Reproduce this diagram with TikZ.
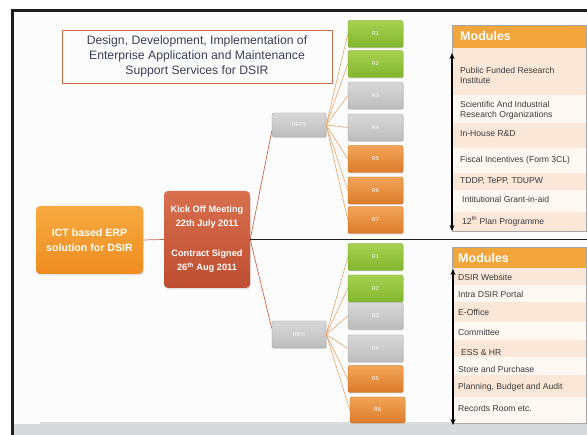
\documentclass[tikz,border=0pt]{standalone}
\usepackage{fontspec}
\setmainfont{Liberation Sans}
\usetikzlibrary{shadows,arrows.meta}
\definecolor{frameblk}{HTML}{1E1E1E}
\definecolor{titletxt}{HTML}{3A3F55}
\definecolor{titleedge}{HTML}{D06A45}
\definecolor{ictA}{HTML}{F7AA40}
\definecolor{ictB}{HTML}{EE8C20}
\definecolor{kickA}{HTML}{D8704E}
\definecolor{kickB}{HTML}{BE4D31}
\definecolor{greenA}{HTML}{A8D150}
\definecolor{greenB}{HTML}{82B62E}
\definecolor{grayA}{HTML}{D8D8D8}
\definecolor{grayB}{HTML}{BDBDBD}
\definecolor{orA}{HTML}{F2A558}
\definecolor{orB}{HTML}{DC7A2A}
\definecolor{lnk}{HTML}{E6A46A}
\definecolor{klnk}{HTML}{C8684C}
\definecolor{modhead}{HTML}{F2A53A}
\definecolor{peach}{HTML}{FBE7D7}
\definecolor{cream}{HTML}{FEF8F3}
\definecolor{modtxt}{HTML}{3A3A3A}
\definecolor{strip}{HTML}{D6DADC}
\begin{document}
\begin{tikzpicture}[x=1pt,y=-1pt,
  rbox/.style={rectangle, rounded corners=2pt, minimum width=55pt, minimum height=27pt,
    inner sep=0pt, text=white, font=\fontsize{5.5}{6}\selectfont,
    drop shadow={opacity=0.25, shadow xshift=0.8pt, shadow yshift=-1pt}},
  gbox/.style={rbox, top color=greenA, bottom color=greenB, draw=greenB!90!black},
  ybox/.style={rbox, top color=grayA, bottom color=grayB, draw=grayB!85!black},
  obox/.style={rbox, top color=orA, bottom color=orB, draw=orB!90!black},
  rfpbox/.style={rbox, top color=grayA, bottom color=grayB, draw=grayB!85!black, minimum width=54pt},
  lk/.style={draw=lnk, line width=0.6pt},
  klk/.style={draw=klnk, line width=0.7pt},
  modtext/.style={anchor=west, inner sep=0pt, text=modtxt, font=\fontsize{8.6}{10.5}\selectfont, align=left},
  dblarrow/.style={line width=1.4pt, {Stealth[length=6pt,width=5pt]}-{Stealth[length=6pt,width=5pt]}}
]
\useasboundingbox (0,0) rectangle (587,435);
\fill[white] (0,0) rectangle (587,435);
\fill[white!98!gray] (13,12) rectangle (587,424);
\fill[strip] (13,424) rectangle (587,435);
\fill[gray!50, opacity=0.5] (40,422.5) rectangle (587,424.5);
% frame
\fill[frameblk] (11,9) rectangle (587,12);
\fill[frameblk] (11,9) rectangle (14,435);

% title
\node[draw=titleedge, line width=0.8pt, minimum width=270pt, minimum height=53pt,
  text=titletxt, align=center, font=\fontsize{12.2}{15}\selectfont] (title) at (197,56.5)
  {Design, Development, Implementation of\\Enterprise Application and Maintenance\\Support Services for DSIR};

% main boxes
\node[rectangle, rounded corners=4pt, minimum width=107pt, minimum height=68pt, top color=ictA, bottom color=ictB,
  text=white, align=center, font=\bfseries\fontsize{10.6}{15.5}\selectfont,
  drop shadow={opacity=0.2, shadow xshift=1pt, shadow yshift=-1.5pt}] (ict) at (89.5,240)
  {ICT based ERP\\solution for DSIR};
\node[rectangle, rounded corners=4pt, minimum width=86pt, minimum height=97pt, top color=kickA, bottom color=kickB,
  text=white, align=center, font=\bfseries\fontsize{9.2}{14}\selectfont,
  drop shadow={opacity=0.2, shadow xshift=1pt, shadow yshift=-1.5pt}] (kick) at (207,239.5)
  {Kick Off Meeting\\22th July 2011\\[16pt]Contract Signed\\26\textsuperscript{th} Aug 2011};

\node[rfpbox, minimum height=24pt] (rfp1) at (299,125) {RFP1};
\node[rfpbox] (rfp2) at (299,334.5) {RfP2};

% top R boxes
\node[gbox] (a1) at (375.5,34) {R1};
\node[gbox] (a2) at (375.5,64) {R2};
\node[ybox] (a3) at (375.5,95.5) {R3};
\node[ybox] (a4) at (375.5,127.5) {R4};
\node[obox] (a5) at (375.5,159) {R5};
\node[obox] (a6) at (375.5,190.5) {R6};
\node[obox] (a7) at (375.5,220) {R7};
% bottom R boxes
\node[gbox] (b1) at (375.5,257) {R1};
\node[gbox] (b2) at (375.5,288.5) {R2};
\node[ybox] (b3) at (375.5,316) {R3};
\node[ybox] (b4) at (375.5,348.5) {R4};
\node[obox] (b5) at (375.5,379) {R5};
\node[obox, minimum height=26pt] (b6) at (377.5,410) {R6};

% connectors
\draw[klk] (ict.east) -- (kick.west);
\draw[klk] (kick.east) -- ([yshift=-6pt]rfp1.west);
\draw[klk] (kick.east) -- ([yshift=6pt]rfp2.west);
\draw[frameblk, line width=1pt] (kick.east) -- (587,239.5);
\foreach \i in {1,...,7} {\draw[lk] (rfp1.east) -- (a\i.west);}
\foreach \i in {1,...,6} {\draw[lk] (rfp2.east) -- (b\i.west);}

% top modules table
\fill[peach] (452,48) rectangle (586,95);
\fill[cream] (452,95) rectangle (586,123);
\fill[peach] (452,123) rectangle (586,148);
\fill[cream] (452,148) rectangle (586,173);
\fill[peach] (452,173) rectangle (586,190);
\fill[cream] (452,190) rectangle (586,212);
\fill[peach] (452,212) rectangle (586,231);
\fill[modhead] (452,25) rectangle (586,48);
\draw[gray!70, line width=0.5pt] (452,25) rectangle (586,231);
\node[anchor=west, inner sep=0pt, text=white, font=\bfseries\fontsize{12.5}{14}\selectfont] (mh1) at (460,36.5) {Modules};
\node[modtext] (m1) at (460,75.5) {Public Funded Research\\Institute};
\node[modtext] (m2) at (460,110.5) {Scientific And Industrial\\Research Organizations};
\node[modtext] (m3) at (460,134) {In-House R\&D};
\node[modtext] (m4) at (460,160) {Fiscal Incentives (Form 3CL)};
\node[modtext] (m5) at (460,181.5) {TDDP, TePP, TDUPW};
\node[modtext] (m6) at (462,199.5) {Intitutional Grant-in-aid};
\node[modtext] (m7) at (462,221.5) {12\textsuperscript{th} Plan Programme};
\coordinate (ta) at (452,53);
\coordinate (tb) at (452,231);
\draw[dblarrow] (ta) -- (tb);

% bottom modules table
\fill[peach] (452,268) rectangle (586,285);
\fill[cream] (452,285) rectangle (586,302);
\fill[peach] (452,302) rectangle (586,322);
\fill[cream] (452,322) rectangle (586,340);
\fill[peach] (452,340) rectangle (586,357);
\fill[cream] (452,357) rectangle (586,375);
\fill[peach] (452,375) rectangle (586,397);
\fill[cream] (452,397) rectangle (586,423);
\fill[modhead] (452,247) rectangle (586,268);
\draw[gray!70, line width=0.5pt] (452,247) rectangle (586,423);
\node[anchor=west, inner sep=0pt, text=white, font=\bfseries\fontsize{12.5}{14}\selectfont] (mh2) at (458,258) {Modules};
\node[modtext] (n1) at (458,277) {DSIR Website};
\node[modtext] (n2) at (458,294.5) {Intra DSIR Portal};
\node[modtext] (n3) at (458,312.5) {E-Office};
\node[modtext] (n4) at (458,332.5) {Committee};
\node[modtext] (n5) at (461,352.5) {ESS \& HR};
\node[modtext] (n6) at (458,369.5) {Store and Purchase};
\node[modtext] (n7) at (458,387) {Planning, Budget and Audit};
\node[modtext] (n8) at (458,408.5) {Records Room etc.};
\coordinate (ba) at (453,269);
\coordinate (bb) at (453,425);
\draw[dblarrow] (ba) -- (bb);
\end{tikzpicture}
\end{document}
